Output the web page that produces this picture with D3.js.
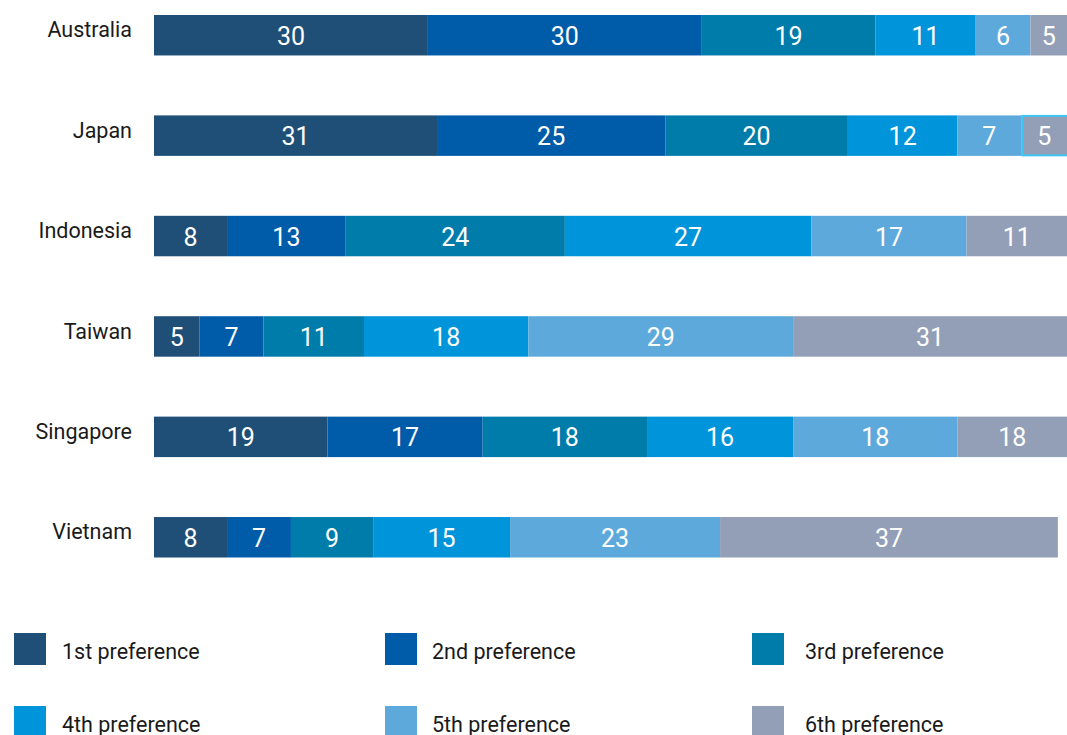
<!DOCTYPE html>
<html>
<head>
<meta charset="utf-8">
<script src="https://cdn.jsdelivr.net/npm/d3@7"></script>
<style>
  html, body { margin: 0; padding: 0; background: #fff; }
  svg { display: block; font-family: Roboto, "Noto Sans", sans-serif; }
</style>
</head>
<body>
<svg id="chart" width="1067" height="735"></svg>
<script>
// Share of respondents ranking each option, by country (percent)
const countries = ["Australia", "Japan", "Indonesia", "Taiwan", "Singapore", "Vietnam"];
const seriesNames = ["1st preference", "2nd preference", "3rd preference",
                     "4th preference", "5th preference", "6th preference"];
const pref1 = [30, 31, 8, 5, 19, 8];
const pref2 = [30, 25, 13, 7, 17, 7];
const pref3 = [19, 20, 24, 11, 18, 9];
const pref4 = [11, 12, 27, 18, 16, 15];
const pref5 = [6, 7, 17, 29, 18, 23];
const pref6 = [5, 5, 11, 31, 18, 37];
const seriesColors = ["#1f4f77", "#005ba9", "#007cab", "#0095da", "#5ea9dc", "#939fb7"];
// Segment drawn with a highlight outline
const highlighted = { country: "Japan", series: "6th preference" };

const allSeries = [pref1, pref2, pref3, pref4, pref5, pref6];
const rows = countries.map((c, i) => {
  const r = { country: c };
  seriesNames.forEach((s, k) => { r[s] = allSeries[k][i]; });
  return r;
});

const W = 1067, H = 735;
const svg = d3.select("#chart");

const x = d3.scaleLinear().domain([0, 100]).range([154, W]);
const y = d3.scaleBand().domain(countries).range([15, 557.5]).paddingInner(0.597).paddingOuter(0);
const color = d3.scaleOrdinal().domain(seriesNames).range(seriesColors);

const stacked = d3.stack().keys(seriesNames)(rows);

svg.append("clipPath").attr("id", "plotClip")
  .append("rect").attr("x", 0).attr("y", 0).attr("width", W).attr("height", H);

const plot = svg.append("g").attr("clip-path", "url(#plotClip)");

const layers = plot.selectAll("g.layer").data(stacked).join("g")
  .attr("class", "layer")
  .attr("fill", d => color(d.key));

layers.selectAll("rect").data(d => d.map(p => Object.assign(p, { key: d.key }))).join("rect")
  .attr("x", d => x(d[0]))
  .attr("y", d => y(d.data.country))
  .attr("width", d => x(d[1]) - x(d[0]))
  .attr("height", y.bandwidth());

// Outline on the highlighted segment
stacked.filter(s => s.key === highlighted.series).forEach(s => {
  s.filter(p => p.data.country === highlighted.country).forEach(p => {
    plot.append("rect")
      .attr("x", x(p[0]) + 1)
      .attr("y", y(p.data.country) + 0.5)
      .attr("width", x(p[1]) - x(p[0]) + 2)
      .attr("height", y.bandwidth() - 1)
      .attr("fill", "none")
      .attr("stroke", "#3ec6f2")
      .attr("stroke-width", 2);
  });
});

// Value labels centred in the visible part of each segment
layers.selectAll("text").data(d => d).join("text")
  .attr("x", d => (x(d[0]) + Math.min(x(d[1]), W)) / 2)
  .attr("y", d => y(d.data.country) + y.bandwidth() / 2 + 1)
  .attr("text-anchor", "middle")
  .attr("dominant-baseline", "central")
  .attr("fill", "#fff")
  .attr("font-size", 25)
  .text(d => d.data[d.key]);

// Country axis
const yAxis = svg.append("g")
  .attr("transform", "translate(132,0)")
  .call(d3.axisLeft(y).tickSize(0).tickPadding(0));
yAxis.attr("font-size", null).attr("font-family", null);
yAxis.select(".domain").remove();
yAxis.selectAll("text")
  .style("font-size", "21.5px")
  .style("font-family", "Roboto, 'Noto Sans', sans-serif")
  .attr("fill", "#1a1a1a")
  .attr("dy", "0.1em");

// Legend: three columns, two rows
const legendCols = [14, 385, 752];
const legendTextX = [62, 432, 805];
const legendRows = [633, 706];
const sq = 32;
const legend = svg.append("g");
seriesNames.forEach((s, i) => {
  const c = i % 3, r = Math.floor(i / 3);
  legend.append("rect")
    .attr("x", legendCols[c]).attr("y", legendRows[r])
    .attr("width", sq).attr("height", sq)
    .attr("fill", color(s));
  legend.append("text")
    .attr("x", legendTextX[c])
    .attr("y", legendRows[r] + sq / 2 + 2)
    .attr("dominant-baseline", "central")
    .style("font-size", "21.5px")
    .attr("fill", "#1a1a1a")
    .text(s);
});
</script>
</body>
</html>
